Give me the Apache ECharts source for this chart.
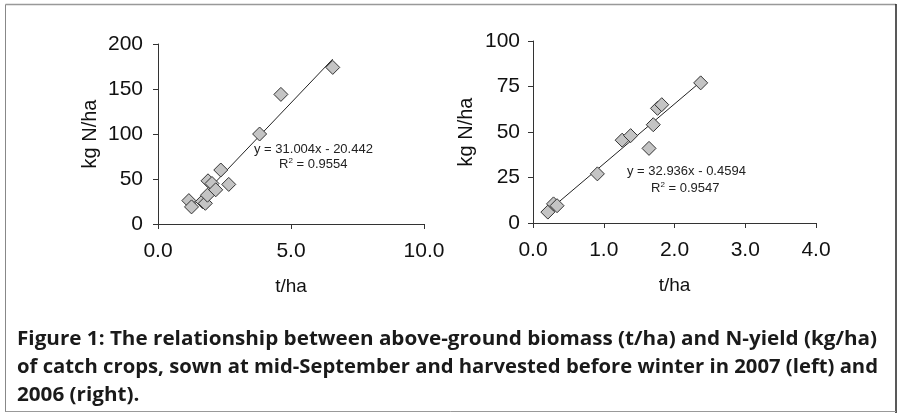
<!DOCTYPE html>
<html>
<head>
<meta charset="utf-8">
<script src="https://cdn.jsdelivr.net/npm/echarts@6/dist/echarts.min.js"></script>
<style>
  html, body { margin: 0; padding: 0; background: #fff; }
  #chart { width: 898px; height: 413px; }
</style>
</head>
<body>
<div id="chart"></div>
<script>
// 2007 catch crops: biomass (t/ha) vs N-yield (kg N/ha)
const biomass2007 = [1.16, 1.26, 1.67, 1.78, 1.86, 1.88, 2.03, 2.17, 2.36, 2.66, 3.82, 4.62, 6.57];
const nYield2007  = [26, 19, 25, 23, 32, 48, 45, 38, 60, 44, 100, 144, 174];
// 2006 catch crops
const biomass2006 = [0.21, 0.29, 0.34, 0.91, 1.26, 1.38, 1.64, 1.70, 1.76, 1.82, 2.37];
const nYield2006  = [6, 10.5, 9.5, 27, 45.5, 48, 41, 54, 63, 65, 77];

// Linear trendlines: [slope, intercept, R²]
const fit2007 = [31.004, -20.442, 0.9554];
const fit2006 = [32.936, -0.4594, 0.9547];

// Axis ranges and tick steps: [min, max, interval]
const xTicks2007 = [0, 10, 5];
const yTicks2007 = [0, 200, 50];
const xTicks2006 = [0, 4, 1];
const yTicks2006 = [0, 100, 25];

const xTitle = 't/ha';
const yTitle = 'kg N/ha';
const captionLines = [
  'Figure 1: The relationship between above-ground biomass (t/ha) and N-yield (kg/ha)',
  'of catch crops, sown at mid-September and harvested before winter in 2007 (left) and',
  '2006 (right).'
];

const AXIS_FONT = '"Liberation Sans", Arial, sans-serif';
const CAPTION_FONT = '"Open Sans", "Noto Sans", sans-serif';
const CAPTION_SIZE = 20;

function pairs(xs, ys) { return xs.map((x, i) => [x, ys[i]]); }
function trend(xs, fit) {
  const lo = Math.min(...xs), hi = Math.max(...xs);
  return [[lo, fit[0] * lo + fit[1]], [hi, fit[0] * hi + fit[1]]];
}
function eqText(fit, digits) {
  const b = fit[1];
  return 'y = ' + fit[0].toFixed(3) + 'x ' + (b < 0 ? '- ' : '+ ') + Math.abs(b).toFixed(digits);
}

function xAxisCfg(gi, t) {
  return {
    type: 'value', gridIndex: gi, min: t[0], max: t[1], interval: t[2],
    axisLine: { show: true, onZero: false, lineStyle: { color: '#333', width: 1 } },
    axisTick: { show: true, length: 5, lineStyle: { color: '#333' } },
    splitLine: { show: false },
    axisLabel: { fontSize: 21, color: '#111', fontFamily: AXIS_FONT, margin: 17,
                 formatter: v => v.toFixed(1) },
    name: xTitle, nameLocation: 'middle', nameGap: 53,
    nameTextStyle: { fontSize: 19, color: '#111', fontFamily: AXIS_FONT }
  };
}
function yAxisCfg(gi, t, gap, margin) {
  return {
    type: 'value', gridIndex: gi, min: t[0], max: t[1], interval: t[2],
    axisLine: { show: true, onZero: false, lineStyle: { color: '#333', width: 1 } },
    axisTick: { show: true, length: 5, lineStyle: { color: '#333' } },
    splitLine: { show: false },
    axisLabel: { fontSize: 21, color: '#111', fontFamily: AXIS_FONT, margin: margin },
    name: yTitle, nameLocation: 'middle', nameRotate: 90, nameGap: gap,
    nameTextStyle: { fontSize: 20, color: '#111', fontFamily: AXIS_FONT }
  };
}

const scatterStyle = {
  type: 'scatter', symbol: 'diamond', symbolSize: 14,
  itemStyle: { color: '#c4c4c4', borderColor: '#333', borderWidth: 1, opacity: 1 },
  z: 3
};
const lineStyle = {
  type: 'line', symbol: 'none', lineStyle: { color: '#222', width: 1 }, z: 2,
  silent: true
};

const chart = echarts.init(document.getElementById('chart'), null, { renderer: 'canvas' });

// Caption lines are condensed to the width of the text block
const measure = document.createElement('canvas').getContext('2d');
measure.font = 'bold ' + CAPTION_SIZE + 'px ' + CAPTION_FONT;
const blockWidths = [860, 861];
const captionScales = captionLines.map((t, i) => {
  const target = blockWidths[i];
  return target ? target / measure.measureText(t).width : null;
});
captionScales[2] = captionScales[0];

const eqStyle = { fontSize: 13, fill: '#222', fontFamily: AXIS_FONT };
function r2Text(fit) {
  return 'R{sup|2} = ' + fit[2].toFixed(4);
}
const richSup = { sup: { fontSize: 8, verticalAlign: 'top', padding: [0, 0, 6, 0], fontFamily: AXIS_FONT, fill: '#222' } };

chart.setOption({
  backgroundColor: '#fff',
  animation: false,
  grid: [
    { left: 158, top: 44, width: 266, height: 180 },
    { left: 533, top: 41, width: 283, height: 182 }
  ],
  xAxis: [xAxisCfg(0, xTicks2007), xAxisCfg(1, xTicks2006)],
  yAxis: [yAxisCfg(0, yTicks2007, 58, 15), yAxisCfg(1, yTicks2006, 57, 13)],
  series: [
    Object.assign({ xAxisIndex: 0, yAxisIndex: 0, data: trend(biomass2007, fit2007) }, lineStyle),
    Object.assign({ xAxisIndex: 0, yAxisIndex: 0, data: pairs(biomass2007, nYield2007) }, scatterStyle),
    Object.assign({ xAxisIndex: 1, yAxisIndex: 1, data: trend(biomass2006, fit2006) }, lineStyle),
    Object.assign({ xAxisIndex: 1, yAxisIndex: 1, data: pairs(biomass2006, nYield2006) }, scatterStyle)
  ],
  graphic: [
    // figure frame
    { type: 'line', shape: { x1: 5.5, y1: 4.5, x2: 896, y2: 4.5 }, style: { stroke: '#999', lineWidth: 1.5 } },
    { type: 'line', shape: { x1: 5.5, y1: 4.5, x2: 5.5, y2: 412 }, style: { stroke: '#888', lineWidth: 1 } },
    { type: 'line', shape: { x1: 896, y1: 4, x2: 896, y2: 413 }, style: { stroke: '#222', lineWidth: 1.5 } },
    { type: 'line', shape: { x1: 5.5, y1: 411.5, x2: 896, y2: 411.5 }, style: { stroke: '#999', lineWidth: 1 } },
    // trendline equations
    { type: 'text', x: 254, y: 149, style: Object.assign({ text: eqText(fit2007, 3), verticalAlign: 'middle' }, eqStyle) },
    { type: 'text', x: 279, y: 164, style: Object.assign({ text: r2Text(fit2007), verticalAlign: 'middle', rich: richSup }, eqStyle) },
    { type: 'text', x: 627, y: 171, style: Object.assign({ text: eqText(fit2006, 4), verticalAlign: 'middle' }, eqStyle) },
    { type: 'text', x: 651, y: 188, style: Object.assign({ text: r2Text(fit2006), verticalAlign: 'middle', rich: richSup }, eqStyle) },
    // caption
    ...captionLines.map((t, i) => ({
      type: 'text', x: 17, y: 339 + i * 28, scaleX: captionScales[i],
      style: { text: t, font: 'bold ' + CAPTION_SIZE + 'px ' + CAPTION_FONT, fill: '#1a1a1a', verticalAlign: 'middle' }
    }))
  ]
});
</script>
</body>
</html>
